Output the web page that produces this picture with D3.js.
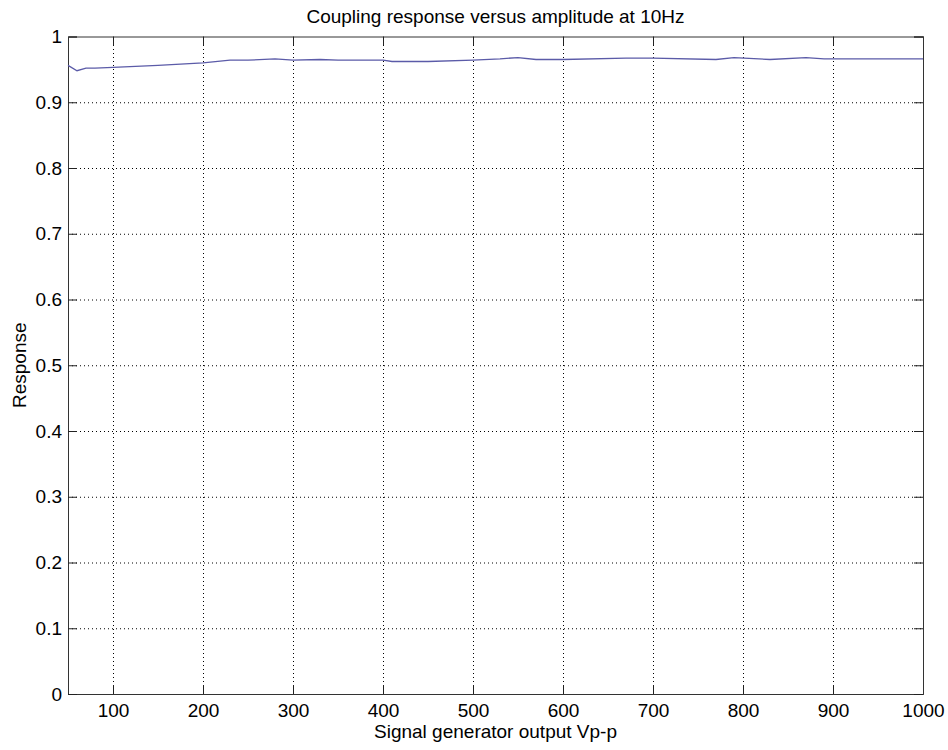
<!DOCTYPE html>
<html>
<head>
<meta charset="utf-8">
<script src="https://cdn.jsdelivr.net/npm/d3@7"></script>
<style>
  body { margin: 0; background: #fff; }
  text { font-family: "Liberation Sans", Arial, sans-serif; fill: #000; }
</style>
</head>
<body>
<script>
const amplitudes = [50, 60, 70, 80, 100, 150, 200, 230, 250, 280, 300, 330, 350, 400, 410, 450, 500, 530, 550, 570, 600, 670, 700, 770, 790, 830, 870, 890, 1000];
const responses  = [0.956, 0.948, 0.952, 0.952, 0.953, 0.956, 0.960, 0.964, 0.964, 0.966, 0.964, 0.965, 0.964, 0.964, 0.962, 0.962, 0.964, 0.966, 0.968, 0.965, 0.965, 0.967, 0.967, 0.965, 0.968, 0.965, 0.968, 0.966, 0.966];
const xTickValues = [100, 200, 300, 400, 500, 600, 700, 800, 900, 1000];
const xTickLabels = ["100", "200", "300", "400", "500", "600", "700", "800", "900", "1000"];
const yTickValues = [0, 0.1, 0.2, 0.3, 0.4, 0.5, 0.6, 0.7, 0.8, 0.9, 1];
const yTickLabels = ["0", "0.1", "0.2", "0.3", "0.4", "0.5", "0.6", "0.7", "0.8", "0.9", "1"];

var width = 948, height = 750;
var margin = {top: 36.5, right: 25, bottom: 56, left: 68};
var w = width - margin.left - margin.right, h = height - margin.top - margin.bottom;

var svg = d3.select("body").append("svg")
    .attr("width", width).attr("height", height);
var g = svg.append("g")
    .attr("transform", "translate(" + margin.left + "," + margin.top + ")");

var x = d3.scaleLinear().domain([50, 1000]).range([0, w]);
var y = d3.scaleLinear().domain([0, 1]).range([h, 0]);

// dotted grid
g.append("g").attr("class", "grid")
    .attr("transform", "translate(0," + h + ")")
    .call(d3.axisBottom(x).tickValues(xTickValues.slice(0, -1)).tickSize(-h).tickFormat(""))
    .call(s => s.select(".domain").remove());
g.append("g").attr("class", "grid")
    .call(d3.axisLeft(y).tickValues(yTickValues.slice(1, -1)).tickSize(-w).tickFormat(""))
    .call(s => s.select(".domain").remove());
g.selectAll(".grid line")
    .attr("stroke", "#000").attr("stroke-width", 1)
    .attr("stroke-dasharray", "1,3");

// axes with inward ticks
var tk = 9;
var xb = g.append("g").attr("transform", "translate(0," + h + ")")
    .call(d3.axisBottom(x).tickValues(xTickValues).tickSize(-tk).tickPadding(9.5)
      .tickFormat((d, i) => xTickLabels[i]));
var yl = g.append("g")
    .call(d3.axisLeft(y).tickValues(yTickValues).tickSize(-tk).tickPadding(6)
      .tickFormat((d, i) => yTickLabels[i]));
var xt = g.append("g")
    .call(d3.axisTop(x).tickValues(xTickValues).tickSize(-tk).tickFormat(""));
var yr = g.append("g").attr("transform", "translate(" + w + ",0)")
    .call(d3.axisRight(y).tickValues(yTickValues).tickSize(-tk).tickFormat(""));
[xb, yl, xt, yr].forEach(a => {
  a.selectAll("path, line").attr("stroke", "#222");
  a.selectAll("text").style("font-size", "19px").attr("fill", "#000");
  a.select(".domain").attr("stroke", "#333");
});

// data line
var line = d3.line().x(d => x(d[0])).y(d => y(d[1]));
g.append("path")
    .datum(amplitudes.map((a, i) => [a, responses[i]]))
    .attr("fill", "none")
    .attr("stroke", "#5b5ba8")
    .attr("stroke-width", 1.3)
    .attr("d", line);

// labels
svg.append("text")
    .attr("x", margin.left + w / 2).attr("y", 23)
    .attr("text-anchor", "middle").style("font-size", "19px")
    .text("Coupling response versus amplitude at 10Hz");
svg.append("text")
    .attr("x", margin.left + w / 2).attr("y", 738)
    .attr("text-anchor", "middle").style("font-size", "19px")
    .text("Signal generator output Vp-p");
svg.append("text")
    .attr("transform", "translate(25.5," + (margin.top + h / 2) + ") rotate(-90)")
    .attr("text-anchor", "middle").style("font-size", "19px")
    .text("Response");
</script>
</body>
</html>
